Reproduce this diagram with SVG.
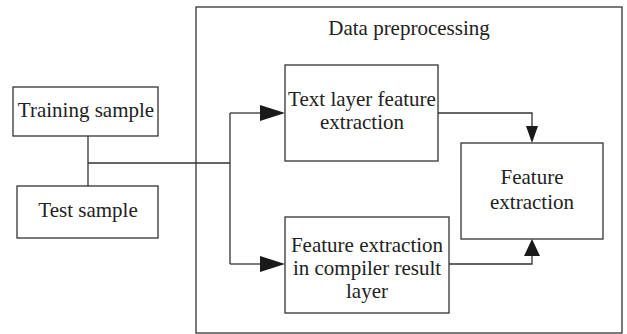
<svg xmlns="http://www.w3.org/2000/svg" width="627" height="334" viewBox="0 0 627 334">
<style>
.box{fill:#fff;stroke:#333;stroke-width:1.3}
.frame{fill:none;stroke:#333;stroke-width:1.3}
.line{fill:none;stroke:#333;stroke-width:1.3}
.head{fill:#1a1a1a;stroke:none}
text{font-family:"Liberation Serif","Times New Roman",serif;font-size:21px;fill:#222;text-anchor:middle}
</style>
<rect width="627" height="334" fill="#fff"/>
<g id="data-preprocessing">
<rect class="frame" x="196" y="7" width="426" height="326"/>
<text x="409" y="35">Data preprocessing</text>
</g>
<g id="connectors">
<polyline class="line" points="88,136 88,186"/>
<polyline class="line" points="88,163 230,163"/>
<polyline class="line" points="230,113 230,264"/>
<polyline class="line" points="230,113 262,113"/>
<polygon class="head" points="285,113 260,105 260,121"/>
<polyline class="line" points="230,264 262,264"/>
<polygon class="head" points="285,264 260,256 260,272"/>
<polyline class="line" points="438,113 532,113 532,128"/>
<polygon class="head" points="532,143 526,126 538,126"/>
<polyline class="line" points="449,264 532,264 532,254"/>
<polygon class="head" points="532,239 524,256 540,256"/>
</g>
<g id="training-sample">
<rect class="box" x="13" y="87" width="145" height="49"/>
<text x="86" y="117">Training sample</text>
</g>
<g id="test-sample">
<rect class="box" x="17" y="186" width="141" height="52"/>
<text x="88" y="217">Test sample</text>
</g>
<g id="text-layer">
<rect class="box" x="285" y="65" width="153" height="96"/>
<text x="362" y="106">Text layer feature</text>
<text x="362" y="129">extraction</text>
</g>
<g id="compiler-layer">
<rect class="box" x="285" y="217" width="164" height="96"/>
<text x="367" y="252">Feature extraction</text>
<text x="367" y="275">in compiler result</text>
<text x="367" y="298">layer</text>
</g>
<g id="feature-extraction">
<rect class="box" x="461" y="143" width="142" height="96"/>
<text x="532" y="184">Feature</text>
<text x="532" y="209">extraction</text>
</g>
</svg>
